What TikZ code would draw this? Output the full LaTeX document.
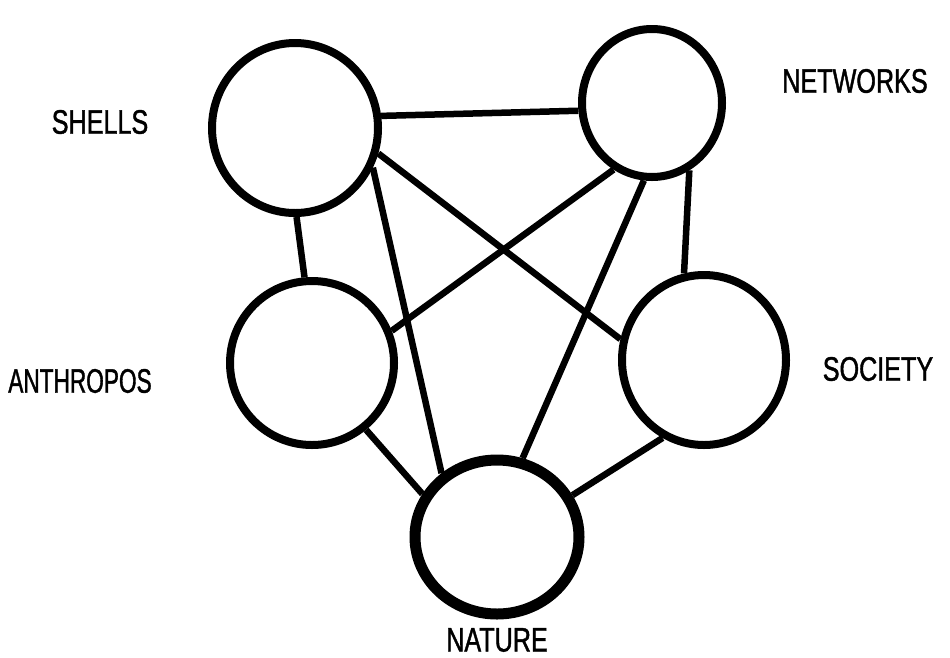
\documentclass[tikz,border=0pt]{standalone}
\usepackage{fontspec}
\setmainfont{Liberation Sans}[FakeStretch=0.74,FakeBold=1.2]
\usetikzlibrary{shapes.geometric}
\begin{document}
\begin{tikzpicture}[x=1pt,y=-1pt,
  ring/.style={draw=black,ellipse,inner sep=0pt,line width=8pt},
  link/.style={draw=black,line width=6.5pt},
  lab/.style={font=\fontsize{34}{34}\selectfont,inner sep=0pt}]
\useasboundingbox[fill=white] (0,0) rectangle (950,657);
\node[ring,minimum width=166pt,minimum height=170pt] (S) at (295,128) {};
\node[ring,minimum width=140pt,minimum height=148pt] (W) at (652,103) {};
\node[ring,minimum width=164pt,minimum height=164pt] (A) at (312,363) {};
\node[ring,minimum width=164pt,minimum height=170pt] (C) at (704,360) {};
\node[ring,line width=11pt,minimum width=164pt,minimum height=154pt] (N) at (497,537) {};
\draw[link] (S.8) -- (W.186);
\draw[link] (S.271) -- (A.95);
\draw[link] (S.-27) -- (N.131);
\draw[link] (S.-17) -- (C.166);
\draw[link] (W.240) -- (A.22);
\draw[link] (W.264) -- (N.72);
\draw[link] (W.299) -- (C.103);
\draw[link] (A.309) -- (N.150);
\draw[link] (C.242) -- (N.29);
\node[lab] (tS) at (100,122) {SHELLS};
\node[lab] (tW) at (855,81) {NETWORKS};
\node[lab] (tA) at (80,381) {\scalebox{0.9}[1]{ANTHROPOS}};
\node[lab] (tC) at (878,369) {SOCIETY};
\node[lab] (tN) at (497,640) {NATURE};
\end{tikzpicture}
\end{document}
